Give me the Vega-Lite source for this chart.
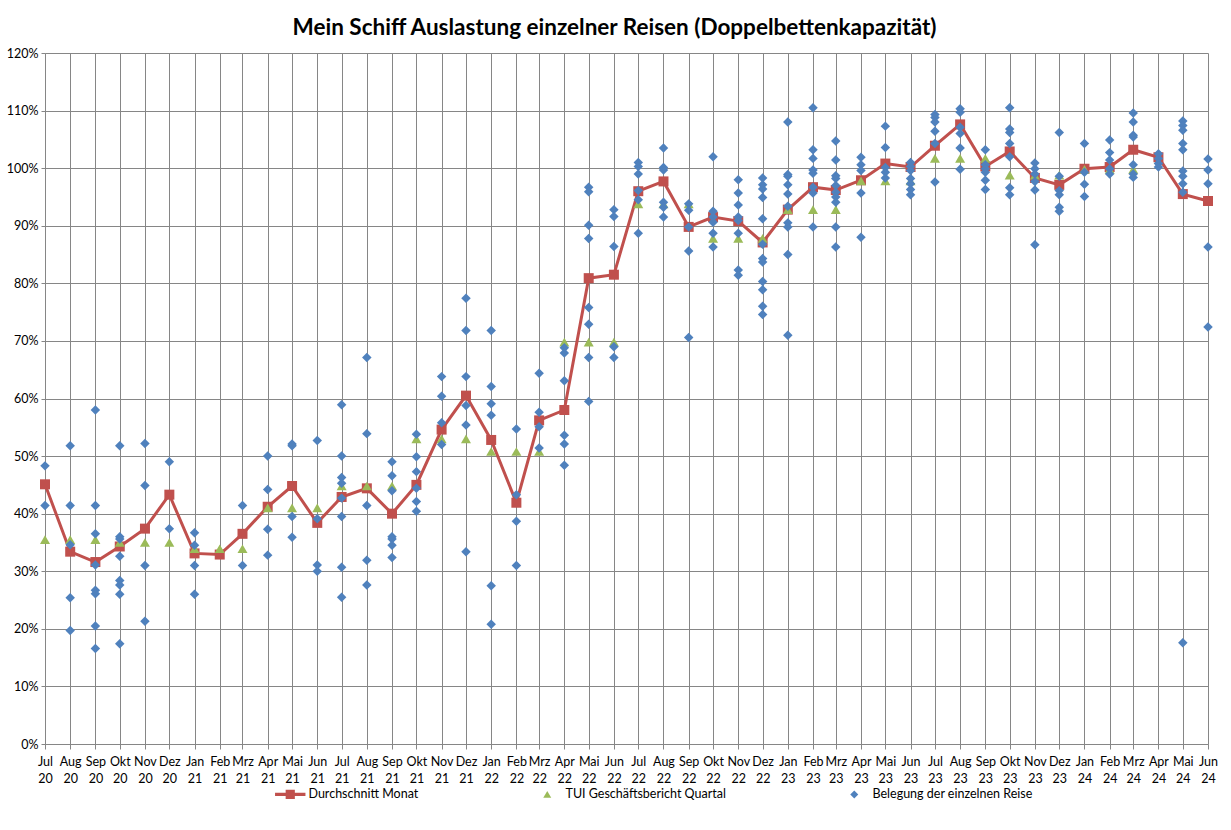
{
  "$schema": "https://vega.github.io/schema/vega-lite/v6.json",
  "width": 1163,
  "height": 691,
  "autosize": {"type": "none"},
  "padding": {"left": 45, "top": 53, "right": 23, "bottom": 86},
  "background": "white",
  "title": {
    "text": "Mein Schiff Auslastung einzelner Reisen (Doppelbettenkapazität)",
    "font": "Lato",
    "fontSize": 22.5,
    "fontWeight": "bold",
    "color": "black",
    "anchor": "middle",
    "frame": "group",
    "dx": -12,
    "offset": 8
  },
  "config": {
    "font": "Lato",
    "view": {"stroke": null},
    "axis": {
      "gridColor": "#868686",
      "domainColor": "#868686",
      "tickColor": "#868686",
      "labelFont": "Lato",
      "labelFontSize": 12.5,
      "labelColor": "black",
      "title": null
    }
  },
  "datasets": {
    "durchschnitt": [
      {"monat": "2020-07-01", "wert": 45.1}, {"monat": "2020-08-01", "wert": 33.4}, {"monat": "2020-09-01", "wert": 31.6},
      {"monat": "2020-10-01", "wert": 34.3}, {"monat": "2020-11-01", "wert": 37.4}, {"monat": "2020-12-01", "wert": 43.3},
      {"monat": "2021-01-01", "wert": 33.1}, {"monat": "2021-02-01", "wert": 32.9}, {"monat": "2021-03-01", "wert": 36.5},
      {"monat": "2021-04-01", "wert": 41.2}, {"monat": "2021-05-01", "wert": 44.8}, {"monat": "2021-06-01", "wert": 38.4},
      {"monat": "2021-07-01", "wert": 42.9}, {"monat": "2021-08-01", "wert": 44.4}, {"monat": "2021-09-01", "wert": 40.0},
      {"monat": "2021-10-01", "wert": 45.0}, {"monat": "2021-11-01", "wert": 54.6}, {"monat": "2021-12-01", "wert": 60.5},
      {"monat": "2022-01-01", "wert": 52.8}, {"monat": "2022-02-01", "wert": 41.9}, {"monat": "2022-03-01", "wert": 56.2},
      {"monat": "2022-04-01", "wert": 58.0}, {"monat": "2022-05-01", "wert": 80.9}, {"monat": "2022-06-01", "wert": 81.5},
      {"monat": "2022-07-01", "wert": 96.0}, {"monat": "2022-08-01", "wert": 97.7}, {"monat": "2022-09-01", "wert": 89.8},
      {"monat": "2022-10-01", "wert": 91.5}, {"monat": "2022-11-01", "wert": 90.8}, {"monat": "2022-12-01", "wert": 87.1},
      {"monat": "2023-01-01", "wert": 92.8}, {"monat": "2023-02-01", "wert": 96.7}, {"monat": "2023-03-01", "wert": 96.2},
      {"monat": "2023-04-01", "wert": 97.9}, {"monat": "2023-05-01", "wert": 100.8}, {"monat": "2023-06-01", "wert": 100.2},
      {"monat": "2023-07-01", "wert": 103.9}, {"monat": "2023-08-01", "wert": 107.6}, {"monat": "2023-09-01", "wert": 100.3},
      {"monat": "2023-10-01", "wert": 102.9}, {"monat": "2023-11-01", "wert": 98.3}, {"monat": "2023-12-01", "wert": 97.1},
      {"monat": "2024-01-01", "wert": 99.9}, {"monat": "2024-02-01", "wert": 100.2}, {"monat": "2024-03-01", "wert": 103.2},
      {"monat": "2024-04-01", "wert": 101.9}, {"monat": "2024-05-01", "wert": 95.5}, {"monat": "2024-06-01", "wert": 94.3}
    ],
    "tui": [
      {"monat": "2020-07-01", "wert": 35.5}, {"monat": "2020-08-01", "wert": 35.5}, {"monat": "2020-09-01", "wert": 35.5},
      {"monat": "2020-10-01", "wert": 35.0}, {"monat": "2020-11-01", "wert": 35.0}, {"monat": "2020-12-01", "wert": 35.0},
      {"monat": "2021-01-01", "wert": 33.9}, {"monat": "2021-02-01", "wert": 33.9}, {"monat": "2021-03-01", "wert": 33.9},
      {"monat": "2021-04-01", "wert": 41.0}, {"monat": "2021-05-01", "wert": 41.0}, {"monat": "2021-06-01", "wert": 41.0},
      {"monat": "2021-07-01", "wert": 44.8}, {"monat": "2021-08-01", "wert": 44.8}, {"monat": "2021-09-01", "wert": 44.8},
      {"monat": "2021-10-01", "wert": 53.0}, {"monat": "2021-11-01", "wert": 53.0}, {"monat": "2021-12-01", "wert": 53.0},
      {"monat": "2022-01-01", "wert": 50.8}, {"monat": "2022-02-01", "wert": 50.8}, {"monat": "2022-03-01", "wert": 50.8},
      {"monat": "2022-04-01", "wert": 69.8}, {"monat": "2022-05-01", "wert": 69.8}, {"monat": "2022-06-01", "wert": 69.8},
      {"monat": "2022-07-01", "wert": 93.8}, {"monat": "2022-08-01", "wert": 93.8}, {"monat": "2022-09-01", "wert": 93.8},
      {"monat": "2022-10-01", "wert": 87.8}, {"monat": "2022-11-01", "wert": 87.8}, {"monat": "2022-12-01", "wert": 87.8},
      {"monat": "2023-01-01", "wert": 92.8}, {"monat": "2023-02-01", "wert": 92.8}, {"monat": "2023-03-01", "wert": 92.8},
      {"monat": "2023-04-01", "wert": 97.8}, {"monat": "2023-05-01", "wert": 97.8}, {"monat": "2023-06-01", "wert": 97.8},
      {"monat": "2023-07-01", "wert": 101.7}, {"monat": "2023-08-01", "wert": 101.7}, {"monat": "2023-09-01", "wert": 101.7},
      {"monat": "2023-10-01", "wert": 98.8}, {"monat": "2023-11-01", "wert": 98.8}, {"monat": "2023-12-01", "wert": 98.8},
      {"monat": "2024-01-01", "wert": 99.8}, {"monat": "2024-02-01", "wert": 99.8}, {"monat": "2024-03-01", "wert": 99.8}
    ],
    "reisen": [
      {"monat": "2020-07-01", "wert": 48.3}, {"monat": "2020-07-01", "wert": 41.4},
      {"monat": "2020-08-01", "wert": 51.8}, {"monat": "2020-08-01", "wert": 41.4}, {"monat": "2020-08-01", "wert": 34.6}, {"monat": "2020-08-01", "wert": 25.4}, {"monat": "2020-08-01", "wert": 19.7},
      {"monat": "2020-09-01", "wert": 58.0}, {"monat": "2020-09-01", "wert": 41.4}, {"monat": "2020-09-01", "wert": 36.5}, {"monat": "2020-09-01", "wert": 31.1}, {"monat": "2020-09-01", "wert": 26.7}, {"monat": "2020-09-01", "wert": 26.1}, {"monat": "2020-09-01", "wert": 20.5}, {"monat": "2020-09-01", "wert": 16.6},
      {"monat": "2020-10-01", "wert": 51.8}, {"monat": "2020-10-01", "wert": 36.0}, {"monat": "2020-10-01", "wert": 35.6}, {"monat": "2020-10-01", "wert": 32.6}, {"monat": "2020-10-01", "wert": 28.4}, {"monat": "2020-10-01", "wert": 27.6}, {"monat": "2020-10-01", "wert": 26.0}, {"monat": "2020-10-01", "wert": 17.4},
      {"monat": "2020-11-01", "wert": 52.2}, {"monat": "2020-11-01", "wert": 44.9}, {"monat": "2020-11-01", "wert": 31.0}, {"monat": "2020-11-01", "wert": 21.3},
      {"monat": "2020-12-01", "wert": 49.0}, {"monat": "2020-12-01", "wert": 37.4},
      {"monat": "2021-01-01", "wert": 36.7}, {"monat": "2021-01-01", "wert": 34.5}, {"monat": "2021-01-01", "wert": 31.0}, {"monat": "2021-01-01", "wert": 26.0},
      {"monat": "2021-03-01", "wert": 41.4}, {"monat": "2021-03-01", "wert": 31.0},
      {"monat": "2021-04-01", "wert": 50.0}, {"monat": "2021-04-01", "wert": 44.2}, {"monat": "2021-04-01", "wert": 37.3}, {"monat": "2021-04-01", "wert": 32.8},
      {"monat": "2021-05-01", "wert": 52.1}, {"monat": "2021-05-01", "wert": 51.8}, {"monat": "2021-05-01", "wert": 39.5}, {"monat": "2021-05-01", "wert": 35.9},
      {"monat": "2021-06-01", "wert": 52.7}, {"monat": "2021-06-01", "wert": 39.1}, {"monat": "2021-06-01", "wert": 31.1}, {"monat": "2021-06-01", "wert": 30.0},
      {"monat": "2021-07-01", "wert": 58.9}, {"monat": "2021-07-01", "wert": 50.0}, {"monat": "2021-07-01", "wert": 46.3}, {"monat": "2021-07-01", "wert": 45.3}, {"monat": "2021-07-01", "wert": 42.7}, {"monat": "2021-07-01", "wert": 39.5}, {"monat": "2021-07-01", "wert": 30.7}, {"monat": "2021-07-01", "wert": 25.5},
      {"monat": "2021-08-01", "wert": 67.1}, {"monat": "2021-08-01", "wert": 53.9}, {"monat": "2021-08-01", "wert": 41.4}, {"monat": "2021-08-01", "wert": 31.9}, {"monat": "2021-08-01", "wert": 27.6},
      {"monat": "2021-09-01", "wert": 49.0}, {"monat": "2021-09-01", "wert": 46.6}, {"monat": "2021-09-01", "wert": 44.0}, {"monat": "2021-09-01", "wert": 36.0}, {"monat": "2021-09-01", "wert": 35.6}, {"monat": "2021-09-01", "wert": 34.5}, {"monat": "2021-09-01", "wert": 32.4},
      {"monat": "2021-10-01", "wert": 53.8}, {"monat": "2021-10-01", "wert": 49.9}, {"monat": "2021-10-01", "wert": 47.3}, {"monat": "2021-10-01", "wert": 44.4}, {"monat": "2021-10-01", "wert": 42.1}, {"monat": "2021-10-01", "wert": 40.4},
      {"monat": "2021-11-01", "wert": 63.8}, {"monat": "2021-11-01", "wert": 60.4}, {"monat": "2021-11-01", "wert": 55.8}, {"monat": "2021-11-01", "wert": 52.0},
      {"monat": "2021-12-01", "wert": 77.4}, {"monat": "2021-12-01", "wert": 71.8}, {"monat": "2021-12-01", "wert": 63.8}, {"monat": "2021-12-01", "wert": 58.8}, {"monat": "2021-12-01", "wert": 55.4}, {"monat": "2021-12-01", "wert": 33.4},
      {"monat": "2022-01-01", "wert": 71.8}, {"monat": "2022-01-01", "wert": 62.1}, {"monat": "2022-01-01", "wert": 59.1}, {"monat": "2022-01-01", "wert": 57.1}, {"monat": "2022-01-01", "wert": 27.5}, {"monat": "2022-01-01", "wert": 20.8},
      {"monat": "2022-02-01", "wert": 54.7}, {"monat": "2022-02-01", "wert": 43.3}, {"monat": "2022-02-01", "wert": 38.7}, {"monat": "2022-02-01", "wert": 31.0},
      {"monat": "2022-03-01", "wert": 64.4}, {"monat": "2022-03-01", "wert": 57.6}, {"monat": "2022-03-01", "wert": 55.1}, {"monat": "2022-03-01", "wert": 51.4},
      {"monat": "2022-04-01", "wert": 68.8}, {"monat": "2022-04-01", "wert": 67.9}, {"monat": "2022-04-01", "wert": 63.1}, {"monat": "2022-04-01", "wert": 53.6}, {"monat": "2022-04-01", "wert": 52.1}, {"monat": "2022-04-01", "wert": 48.4},
      {"monat": "2022-05-01", "wert": 96.7}, {"monat": "2022-05-01", "wert": 95.9}, {"monat": "2022-05-01", "wert": 90.1}, {"monat": "2022-05-01", "wert": 87.8}, {"monat": "2022-05-01", "wert": 75.8}, {"monat": "2022-05-01", "wert": 72.9}, {"monat": "2022-05-01", "wert": 67.1}, {"monat": "2022-05-01", "wert": 59.5},
      {"monat": "2022-06-01", "wert": 92.8}, {"monat": "2022-06-01", "wert": 91.6}, {"monat": "2022-06-01", "wert": 86.4}, {"monat": "2022-06-01", "wert": 69.0}, {"monat": "2022-06-01", "wert": 67.1},
      {"monat": "2022-07-01", "wert": 101.0}, {"monat": "2022-07-01", "wert": 100.3}, {"monat": "2022-07-01", "wert": 99.0}, {"monat": "2022-07-01", "wert": 96.1}, {"monat": "2022-07-01", "wert": 94.5}, {"monat": "2022-07-01", "wert": 88.7},
      {"monat": "2022-08-01", "wert": 103.5}, {"monat": "2022-08-01", "wert": 100.1}, {"monat": "2022-08-01", "wert": 99.7}, {"monat": "2022-08-01", "wert": 94.1}, {"monat": "2022-08-01", "wert": 93.2}, {"monat": "2022-08-01", "wert": 91.5},
      {"monat": "2022-09-01", "wert": 93.8}, {"monat": "2022-09-01", "wert": 92.7}, {"monat": "2022-09-01", "wert": 89.8}, {"monat": "2022-09-01", "wert": 85.6}, {"monat": "2022-09-01", "wert": 70.6},
      {"monat": "2022-10-01", "wert": 102.0}, {"monat": "2022-10-01", "wert": 92.5}, {"monat": "2022-10-01", "wert": 91.5}, {"monat": "2022-10-01", "wert": 90.6}, {"monat": "2022-10-01", "wert": 88.7}, {"monat": "2022-10-01", "wert": 86.3},
      {"monat": "2022-11-01", "wert": 98.0}, {"monat": "2022-11-01", "wert": 95.7}, {"monat": "2022-11-01", "wert": 93.6}, {"monat": "2022-11-01", "wert": 91.5}, {"monat": "2022-11-01", "wert": 90.9}, {"monat": "2022-11-01", "wert": 88.7}, {"monat": "2022-11-01", "wert": 82.3}, {"monat": "2022-11-01", "wert": 81.4},
      {"monat": "2022-12-01", "wert": 98.3}, {"monat": "2022-12-01", "wert": 97.1}, {"monat": "2022-12-01", "wert": 96.4}, {"monat": "2022-12-01", "wert": 94.9}, {"monat": "2022-12-01", "wert": 91.2}, {"monat": "2022-12-01", "wert": 86.8}, {"monat": "2022-12-01", "wert": 84.3}, {"monat": "2022-12-01", "wert": 83.7}, {"monat": "2022-12-01", "wert": 80.3}, {"monat": "2022-12-01", "wert": 78.9}, {"monat": "2022-12-01", "wert": 76.0}, {"monat": "2022-12-01", "wert": 74.6},
      {"monat": "2023-01-01", "wert": 108.0}, {"monat": "2023-01-01", "wert": 98.9}, {"monat": "2023-01-01", "wert": 98.6}, {"monat": "2023-01-01", "wert": 97.1}, {"monat": "2023-01-01", "wert": 95.5}, {"monat": "2023-01-01", "wert": 93.4}, {"monat": "2023-01-01", "wert": 90.5}, {"monat": "2023-01-01", "wert": 89.8}, {"monat": "2023-01-01", "wert": 85.0}, {"monat": "2023-01-01", "wert": 71.0},
      {"monat": "2023-02-01", "wert": 110.5}, {"monat": "2023-02-01", "wert": 103.2}, {"monat": "2023-02-01", "wert": 101.7}, {"monat": "2023-02-01", "wert": 99.7}, {"monat": "2023-02-01", "wert": 99.1}, {"monat": "2023-02-01", "wert": 96.7}, {"monat": "2023-02-01", "wert": 95.7}, {"monat": "2023-02-01", "wert": 89.8},
      {"monat": "2023-03-01", "wert": 104.7}, {"monat": "2023-03-01", "wert": 101.4}, {"monat": "2023-03-01", "wert": 98.7}, {"monat": "2023-03-01", "wert": 98.2}, {"monat": "2023-03-01", "wert": 97.0}, {"monat": "2023-03-01", "wert": 95.8}, {"monat": "2023-03-01", "wert": 95.0}, {"monat": "2023-03-01", "wert": 94.1}, {"monat": "2023-03-01", "wert": 89.8}, {"monat": "2023-03-01", "wert": 86.3},
      {"monat": "2023-04-01", "wert": 101.9}, {"monat": "2023-04-01", "wert": 100.6}, {"monat": "2023-04-01", "wert": 99.6}, {"monat": "2023-04-01", "wert": 95.7}, {"monat": "2023-04-01", "wert": 88.0},
      {"monat": "2023-05-01", "wert": 107.3}, {"monat": "2023-05-01", "wert": 103.6}, {"monat": "2023-05-01", "wert": 100.1}, {"monat": "2023-05-01", "wert": 99.3}, {"monat": "2023-05-01", "wert": 98.3},
      {"monat": "2023-06-01", "wert": 101.0}, {"monat": "2023-06-01", "wert": 100.3}, {"monat": "2023-06-01", "wert": 99.6}, {"monat": "2023-06-01", "wert": 98.2}, {"monat": "2023-06-01", "wert": 97.3}, {"monat": "2023-06-01", "wert": 96.3}, {"monat": "2023-06-01", "wert": 95.4},
      {"monat": "2023-07-01", "wert": 109.3}, {"monat": "2023-07-01", "wert": 108.8}, {"monat": "2023-07-01", "wert": 108.0}, {"monat": "2023-07-01", "wert": 106.4}, {"monat": "2023-07-01", "wert": 104.3}, {"monat": "2023-07-01", "wert": 97.6},
      {"monat": "2023-08-01", "wert": 110.3}, {"monat": "2023-08-01", "wert": 109.7}, {"monat": "2023-08-01", "wert": 107.1}, {"monat": "2023-08-01", "wert": 106.0}, {"monat": "2023-08-01", "wert": 103.5}, {"monat": "2023-08-01", "wert": 99.8},
      {"monat": "2023-09-01", "wert": 103.2}, {"monat": "2023-09-01", "wert": 100.6}, {"monat": "2023-09-01", "wert": 99.9}, {"monat": "2023-09-01", "wert": 99.3}, {"monat": "2023-09-01", "wert": 97.9}, {"monat": "2023-09-01", "wert": 96.3},
      {"monat": "2023-10-01", "wert": 110.5}, {"monat": "2023-10-01", "wert": 106.8}, {"monat": "2023-10-01", "wert": 106.2}, {"monat": "2023-10-01", "wert": 104.3}, {"monat": "2023-10-01", "wert": 102.0}, {"monat": "2023-10-01", "wert": 96.6}, {"monat": "2023-10-01", "wert": 95.4},
      {"monat": "2023-11-01", "wert": 100.9}, {"monat": "2023-11-01", "wert": 99.9}, {"monat": "2023-11-01", "wert": 99.0}, {"monat": "2023-11-01", "wert": 97.7}, {"monat": "2023-11-01", "wert": 96.2}, {"monat": "2023-11-01", "wert": 86.7},
      {"monat": "2023-12-01", "wert": 106.2}, {"monat": "2023-12-01", "wert": 98.6}, {"monat": "2023-12-01", "wert": 96.1}, {"monat": "2023-12-01", "wert": 95.4}, {"monat": "2023-12-01", "wert": 93.2}, {"monat": "2023-12-01", "wert": 92.5},
      {"monat": "2024-01-01", "wert": 104.3}, {"monat": "2024-01-01", "wert": 99.3}, {"monat": "2024-01-01", "wert": 97.2}, {"monat": "2024-01-01", "wert": 95.1},
      {"monat": "2024-02-01", "wert": 104.9}, {"monat": "2024-02-01", "wert": 102.7}, {"monat": "2024-02-01", "wert": 101.4}, {"monat": "2024-02-01", "wert": 99.9}, {"monat": "2024-02-01", "wert": 99.0},
      {"monat": "2024-03-01", "wert": 109.6}, {"monat": "2024-03-01", "wert": 108.0}, {"monat": "2024-03-01", "wert": 105.7}, {"monat": "2024-03-01", "wert": 105.4}, {"monat": "2024-03-01", "wert": 100.6}, {"monat": "2024-03-01", "wert": 99.0}, {"monat": "2024-03-01", "wert": 98.4},
      {"monat": "2024-04-01", "wert": 102.5}, {"monat": "2024-04-01", "wert": 101.7}, {"monat": "2024-04-01", "wert": 100.8}, {"monat": "2024-04-01", "wert": 100.2},
      {"monat": "2024-05-01", "wert": 108.2}, {"monat": "2024-05-01", "wert": 107.4}, {"monat": "2024-05-01", "wert": 106.6}, {"monat": "2024-05-01", "wert": 104.3}, {"monat": "2024-05-01", "wert": 103.2}, {"monat": "2024-05-01", "wert": 99.5}, {"monat": "2024-05-01", "wert": 98.6}, {"monat": "2024-05-01", "wert": 97.3}, {"monat": "2024-05-01", "wert": 95.8}, {"monat": "2024-05-01", "wert": 17.6},
      {"monat": "2024-06-01", "wert": 101.6}, {"monat": "2024-06-01", "wert": 99.7}, {"monat": "2024-06-01", "wert": 97.3}, {"monat": "2024-06-01", "wert": 86.3}, {"monat": "2024-06-01", "wert": 72.4}
    ]
  },
  "encoding": {
    "x": {
      "field": "monat",
      "type": "temporal",
      "scale": {"type": "utc", "nice": false},
      "axis": {
        "grid": true,
        "tickCount": {"interval": "month", "step": 1},
        "labelExpr": "[['Jan','Feb','Mrz','Apr','Mai','Jun','Jul','Aug','Sep','Okt','Nov','Dez'][utcmonth(datum.value)], utcFormat(datum.value, '%y')]",
        "labelOverlap": false,
        "labelFlush": false,
        "labelAlign": "center",
        "labelBaseline": "top",
        "labelPadding": 6,
        "labelLineHeight": 17,
        "tickSize": 5
      }
    },
    "y": {
      "field": "wert",
      "type": "quantitative",
      "scale": {"domain": [0, 120], "nice": false},
      "axis": {
        "grid": true,
        "values": [0, 10, 20, 30, 40, 50, 60, 70, 80, 90, 100, 110, 120],
        "labelExpr": "datum.value + '%'",
        "tickSize": 4,
        "labelPadding": 3
      }
    }
  },
  "layer": [
    {
      "data": {"name": "durchschnitt"},
      "mark": {"type": "line", "color": "#C0504D", "strokeWidth": 3}
    },
    {
      "data": {"name": "durchschnitt"},
      "mark": {"type": "point", "shape": "square", "filled": true, "opacity": 1, "size": 100},
      "encoding": {
        "color": {
          "datum": "Durchschnitt Monat",
          "scale": {
            "domain": ["Durchschnitt Monat", "TUI Geschäftsbericht Quartal", "Belegung der einzelnen Reise"],
            "range": ["#C0504D", "#9BBB59", "#4F81BD"]
          },
          "legend": {
            "title": null,
            "orient": "none",
            "legendX": 239,
            "legendY": 735,
            "direction": "horizontal",
            "columns": 3,
            "columnPadding": 122,
            "labelFont": "Lato",
            "labelFontSize": 12.5,
            "labelColor": "black",
            "labelLimit": 400,
            "labelOffset": 12,
            "symbolSize": 64,
            "symbolOpacity": 1,
            "encode": {
              "symbols": {
                "update": {
                  "shape": {"signal": "datum.value === 'Durchschnitt Monat' ? 'M-3.8,-0.4L3.8,-0.4L3.8,0.4L-3.8,0.4Z M-1.15,-1.15L1.15,-1.15L1.15,1.15L-1.15,1.15Z' : (datum.value === 'TUI Geschäftsbericht Quartal' ? 'triangle-up' : 'diamond')"},
                  "strokeWidth": {"value": 0}
                }
              }
            }
          }
        }
      }
    },
    {
      "data": {"name": "tui"},
      "mark": {"type": "point", "shape": "triangle-up", "filled": true, "opacity": 1, "size": 100},
      "encoding": {"color": {"datum": "TUI Geschäftsbericht Quartal"}}
    },
    {
      "data": {"name": "reisen"},
      "mark": {"type": "point", "shape": "diamond", "filled": true, "opacity": 1, "size": 90},
      "encoding": {"color": {"datum": "Belegung der einzelnen Reise"}}
    }
  ]
}
